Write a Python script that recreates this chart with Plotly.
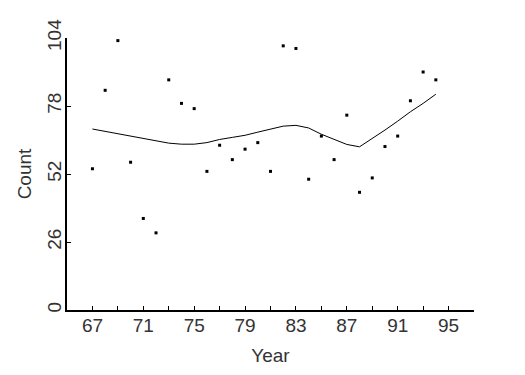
import plotly.graph_objects as go

years = list(range(67, 95))
counts = [54, 84, 103, 56.5, 35, 29.5, 88, 79, 77, 53, 63, 57.5, 61.5, 64, 53,
          101, 100, 50, 66.5, 57.5, 74.5, 45, 50.5, 62.5, 66.5, 80, 91, 88]
smooth = [69.2, 68.3, 67.3, 66.3, 65.5, 64.6, 63.8, 63.4, 63.4, 64.0, 65.2, 66.0,
          66.8, 68.0, 69.2, 70.3, 70.6, 69.6, 67.2, 65.2, 63.3, 62.4, 65.5, 68.8,
          72.2, 75.8, 79.0, 82.5]
x_ticks = list(range(67, 97, 4))
y_ticks = [0, 26, 52, 78, 104]

font = dict(family="Liberation Sans", size=19, color="#333")

fig = go.Figure()
fig.add_trace(go.Scatter(x=years, y=counts, mode="markers",
                         marker=dict(symbol="square", size=3, color="black",
                                     line=dict(width=0)),
                         showlegend=False))
fig.add_trace(go.Scatter(x=years, y=smooth, mode="lines",
                         line=dict(color="black", width=1),
                         showlegend=False))

fig.update_layout(
    width=525, height=375,
    margin=dict(l=67, r=51, t=38, b=65),
    paper_bgcolor="white", plot_bgcolor="white",
    font=font,
    xaxis=dict(range=[65, 97], tickvals=list(range(67, 98, 2)),
               ticktext=[str(v) if v in x_ticks else "" for v in range(67, 98, 2)],
               ticks="inside", ticklen=4, tickwidth=1, tickcolor="black",
               showline=True, linecolor="black", linewidth=2,
               showgrid=False, zeroline=False, ticklabelstandoff=-3,
               title=dict(text="Year", font=font, standoff=14),
               tickfont=font),
    yaxis=dict(range=[0, 104], tickvals=y_ticks,
               ticks="inside", ticklen=4, tickwidth=1, tickcolor="black",
               showline=True, linecolor="black", linewidth=2,
               showgrid=False, zeroline=False, tickangle=-90,
               ticklabelstandoff=-4,
               title=dict(text="Count", font=font, standoff=8),
               tickfont=font),
)
fig.write_html("out.html")
